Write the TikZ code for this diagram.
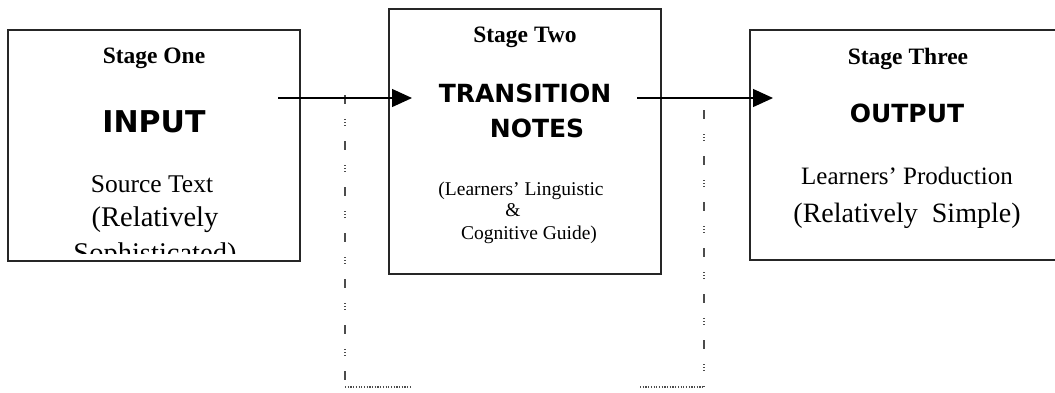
\documentclass[tikz,border=0pt]{standalone}
\usepackage{fontspec}
\setmainfont{Liberation Serif}
\newfontfamily\heavy{DejaVu Sans}
\usetikzlibrary{arrows.meta}
\newcommand{\fsz}[1]{\fontsize{#1}{#1}\selectfont}
\tikzset{
  box/.style={draw=black!85, line width=1.5pt, inner sep=0pt, fill=white},
  txt/.style={anchor=base, inner sep=0pt},
  stagelbl/.style={txt, font=\bfseries\fsz{23.5}},
  bigword/.style={txt, font=\heavy\bfseries\fsz{25}},
  arr/.style={line width=1.3pt, -{Triangle[length=20pt,width=18pt]}},
  guide/.style={draw=black!70, line width=1.2pt, dash pattern=on 9pt off 15pt on 1pt off 2pt on 1pt off 2pt on 1pt off 15pt},
  guidebase/.style={draw=black!70, line width=1.2pt, dash pattern=on 1.2pt off 1.5pt}
}
\begin{document}
\begin{tikzpicture}[x=1pt,y=-1pt]
\clip (0,0) rectangle (1055,392);
\fill[white] (0,0) rectangle (1055,392);

% dotted guide lines
\coordinate (gl1) at (345,95);
\coordinate (gl2) at (345,387);
\coordinate (gl3) at (410,387);
\coordinate (gr1) at (704,110);
\coordinate (gr2) at (704,387);
\coordinate (gr3) at (640,387);
\draw[guide] (gl1) -- (gl2);
\draw[guidebase] (gl2) -- (gl3);
\draw[guide] (gr1) -- (gr2);
\draw[guidebase] (gr3) -- (gr2);

% boxes
\node[box, minimum width=292pt, minimum height=231pt] (b1) at (154,145.5) {};
\node[box, minimum width=272pt, minimum height=265pt] (b2) at (525,141.5) {};
\node[box, minimum width=320pt, minimum height=230pt] (b3) at (910,145) {};

% stage one text
\node[stagelbl] (s1) at (154,63) {Stage One};
\node[txt, font=\heavy\bfseries\fsz{30}] (w1) at (154,132) {INPUT};
\node[txt, font=\fsz{25.5}] (d1a) at (152,192) {Source Text};
\node[txt, font=\fsz{28.5}] (d1b) at (155,226) {(Relatively};
\begin{scope}
\clip (10,200) rectangle (298,253);
\node[txt, font=\fsz{28.5}] (d1c) at (155,262) {Sophisticated)};
\end{scope}

% stage two text
\node[stagelbl] (s2) at (525,42) {Stage Two};
\node[bigword] (w2a) at (525,102) {TRANSITION};
\node[bigword] (w2b) at (537,137) {NOTES};
\node[txt, font=\fsz{19.5}] (d2a) at (521,195) {(Learners' Linguistic};
\node[txt, font=\fsz{19.5}] (d2b) at (513,216) {\&};
\node[txt, font=\fsz{19.5}] (d2c) at (529,239) {Cognitive Guide)};

% stage three text
\node[stagelbl] (s3) at (908,64) {Stage Three};
\node[bigword] (w3) at (907,122) {OUTPUT};
\node[txt, font=\fsz{25}] (d3a) at (907,184) {Learners' Production};
\node[txt, font=\fsz{28}] (d3b) at (907,222) {(Relatively\ \ Simple)};

% arrows
\coordinate (a1s) at (278,98);
\coordinate (a1e) at (412,98);
\coordinate (a2s) at (637,98);
\coordinate (a2e) at (773,98);
\draw[arr] (a1s) -- (a1e);
\draw[arr] (a2s) -- (a2e);
\end{tikzpicture}
\end{document}
